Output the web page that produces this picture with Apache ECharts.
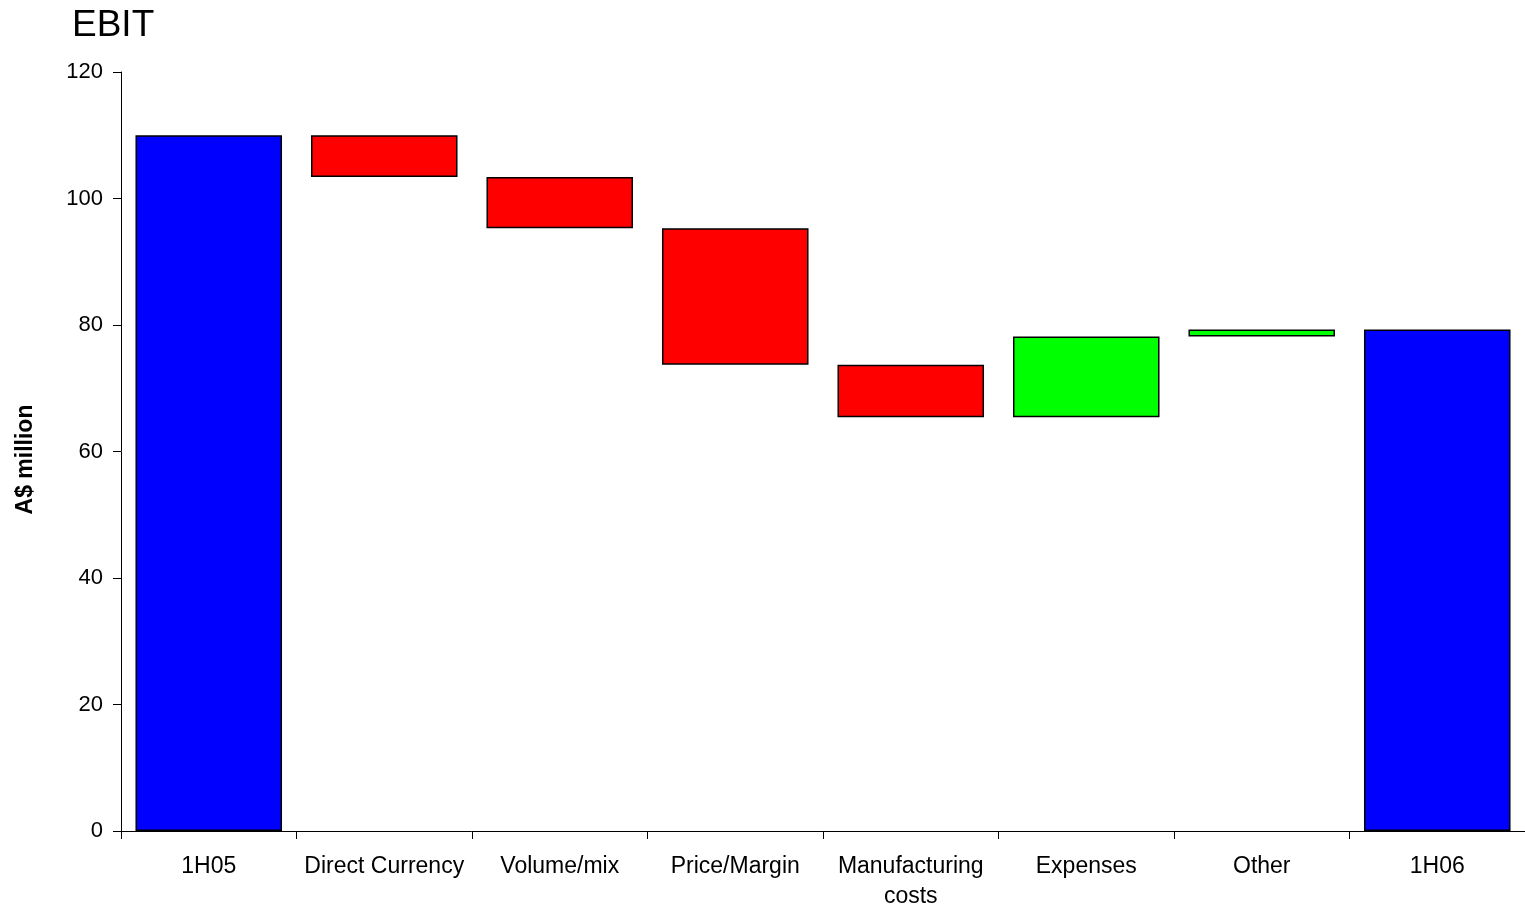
<!DOCTYPE html>
<html>
<head>
<meta charset="utf-8">
<script src="https://cdn.jsdelivr.net/npm/echarts@6/dist/echarts.min.js"></script>
<style>html,body{margin:0;padding:0;background:#fff;overflow:hidden;}#c{width:1525px;height:912px;}</style>
</head>
<body>
<div id="c"></div>
<script>
var categories = ['1H05', 'Direct Currency', 'Volume/mix', 'Price/Margin', 'Manufacturing\ncosts', 'Expenses', 'Other', '1H06'];
var startTotal = 110;
var changes = [-6.6, -8.1, -21.6, -8.3, 12.8, 1.1];
var endTotal = 79.3;
var yTicks = { min: 0, max: 120, interval: 20 };

var BLUE = '#0000FF', RED = '#FF0000', GREEN = '#00FF00';

var base = [], heights = [];
base.push(0);
heights.push({ value: startTotal, itemStyle: { color: BLUE } });
var running = startTotal;
changes.forEach(function (c) {
  var next = running + c;
  base.push(Math.min(running, next));
  heights.push({ value: Math.abs(c), itemStyle: { color: c < 0 ? RED : GREEN } });
  running = next;
});
base.push(0);
heights.push({ value: endTotal, itemStyle: { color: BLUE } });

var font = 'Liberation Sans, Arial, sans-serif';
var chart = echarts.init(document.getElementById('c'), null, { renderer: 'canvas' });
chart.setOption({
  animation: false,
  backgroundColor: '#fff',
  title: {
    text: 'EBIT', left: 67, top: 2,
    textStyle: { fontFamily: font, fontSize: 37, fontWeight: 'normal', color: '#000' }
  },
  grid: { left: 121, width: 1408, top: 72, bottom: 78, containLabel: false },
  xAxis: {
    type: 'category', data: categories,
    axisLine: { lineStyle: { color: '#000', width: 1 } },
    axisTick: { show: true, length: 8, lineStyle: { color: '#000' }, alignWithLabel: false },
    axisLabel: { color: '#000', fontFamily: font, fontSize: 23, margin: 21, lineHeight: 30, interval: 0 }
  },
  yAxis: {
    type: 'value', min: yTicks.min, max: yTicks.max, interval: yTicks.interval,
    name: 'A$ million', nameLocation: 'middle', nameGap: 84, nameRotate: 90,
    nameTextStyle: { fontFamily: font, fontSize: 23, fontWeight: 'bold', color: '#000', padding: [0, 16, 0, 0] },
    axisLine: { show: true, lineStyle: { color: '#000', width: 1 } },
    axisTick: { show: true, length: 8, lineStyle: { color: '#000' } },
    splitLine: { show: false },
    axisLabel: { color: '#000', fontFamily: font, fontSize: 22, margin: 18 }
  },
  series: [
    {
      type: 'bar', stack: 'w', data: base, silent: true,
      itemStyle: { color: 'transparent', borderWidth: 0 },
      barCategoryGap: '16.5%'
    },
    {
      type: 'bar', stack: 'w', data: heights,
      itemStyle: { borderColor: '#000', borderWidth: 1.5 },
      barCategoryGap: '16.5%'
    }
  ]
});
</script>
</body>
</html>
